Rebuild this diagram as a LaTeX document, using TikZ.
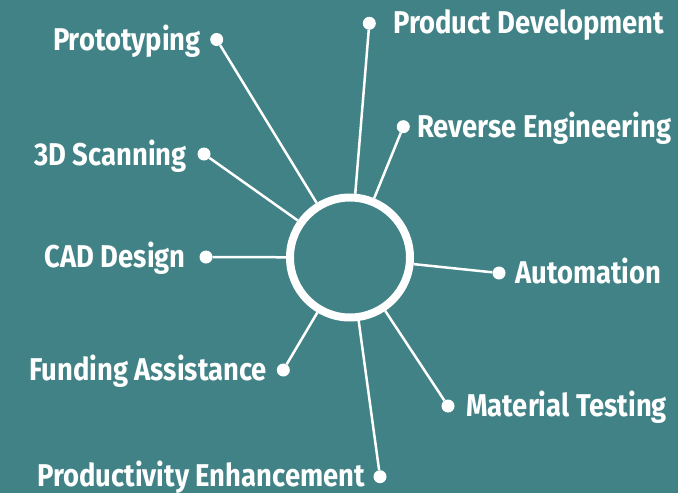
\documentclass[tikz,border=0pt]{standalone}
\usepackage{fontspec}
\newfontfamily\labfont{Fira Sans}[FakeStretch=0.87]
\definecolor{bg}{RGB}{64,130,134}
\begin{document}
\begin{tikzpicture}[x=1pt,y=-1pt,
  hub/.style={circle,draw=white,line width=8pt,minimum size=120pt,inner sep=0pt},
  dot/.style={circle,fill=white,minimum size=13pt,inner sep=0pt},
  spoke/.style={draw=white,line width=2.5pt},
  lab/.style={text=white,font=\labfont\bfseries\fontsize{31.5}{31.5}\selectfont,inner sep=0pt}]
\fill[bg] (0,0) rectangle (678,493);
\useasboundingbox (0,0) rectangle (678,493);
\node[hub] (c) at (350,257.5) {};
% dots
\node[dot] (d1) at (216.7,39.5) {};
\node[dot] (d2) at (369.3,23.3) {};
\node[dot] (d3) at (403.3,126.7) {};
\node[dot] (d4) at (204,154) {};
\node[dot] (d5) at (206,257) {};
\node[dot] (d6) at (499,273) {};
\node[dot] (d7) at (283.3,370) {};
\node[dot] (d8) at (448,406) {};
\node[dot] (d9) at (380,476.7) {};
% spokes
\foreach \d in {d1,d2,d3,d4,d5,d6,d7,d8,d9} \draw[spoke] (\d) -- (c);
% labels
\node[lab,anchor=base east] (t1) at (201,50) {Prototyping};
\node[lab,anchor=base west] (t2) at (393,33) {Product Development};
\node[lab,anchor=base west] (t3) at (417,137) {Reverse Engineering};
\node[lab,anchor=base east] (t4) at (187,165) {3D Scanning};
\node[lab,anchor=base east] (t5) at (186,267) {CAD Design};
\node[lab,anchor=base west] (t6) at (515,283) {Automation};
\node[lab,anchor=base east] (t7) at (267,380) {Funding Assistance};
\node[lab,anchor=base west] (t8) at (466,416) {Material Testing};
\node[lab,anchor=base east] (t9) at (365,486) {Productivity Enhancement};
\end{tikzpicture}
\end{document}
